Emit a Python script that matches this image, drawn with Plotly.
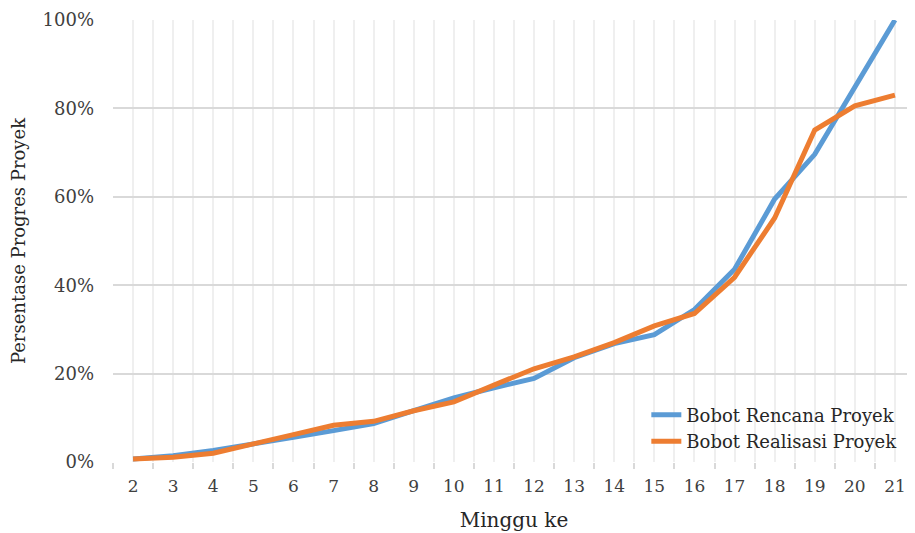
import plotly.graph_objects as go

weeks = list(range(2, 22))
week_labels = [str(w) for w in weeks]
rencana = [0.7, 1.4, 2.6, 4.2, 5.6, 7.1, 8.7, 11.6, 14.5, 16.8, 18.9, 23.6, 26.8, 28.8, 34.5, 43.6, 59.5, 69.6, 85.0, 100.0]
realisasi = [0.7, 1.1, 2.0, 4.0, 6.2, 8.3, 9.2, 11.6, 13.6, 17.4, 21.1, 23.8, 27.0, 30.8, 33.6, 41.8, 55.2, 75.1, 80.6, 83.0]
y_ticks = [0, 20, 40, 60, 80, 100]
y_tick_labels = ["0%", "20%", "40%", "60%", "80%", "100%"]
series_names = ["Bobot Rencana Proyek", "Bobot Realisasi Proyek"]
colors = ["#5B9BD5", "#ED7D31"]

boundaries = [w - 0.5 for w in weeks]

fig = go.Figure()
for name, vals, col in zip(series_names, [rencana, realisasi], colors):
    fig.add_trace(go.Scatter(x=weeks, y=vals, mode="lines", name=name,
                             line=dict(color=col, width=5)))

font_family = "DejaVu Serif"
fig.update_layout(
    width=907, height=525,
    margin=dict(l=105, r=0, t=12, b=71),
    paper_bgcolor="white", plot_bgcolor="white",
    font=dict(family=font_family, size=18, color="#404040"),
    showlegend=True,
    legend=dict(x=0.665, y=0.148, xanchor="left", yanchor="top",
                bgcolor="rgba(0,0,0,0)", font=dict(family=font_family, size=18, color="#262626"),
                tracegroupgap=0),
    xaxis=dict(
        range=[1.5, 21.5],
        tickmode="array", tickvals=weeks, ticktext=week_labels,
        ticks="", showgrid=True, gridcolor="#efefef", gridwidth=1.5,
        zeroline=False, showline=False,
        ticklabeloverflow="allow",
        tickfont=dict(family=font_family, size=17, color="#404040"),
        minor=dict(tickmode="array", tickvals=boundaries, ticks="outside",
                   ticklen=6, tickwidth=1.5, tickcolor="#d9d9d9",
                   showgrid=True, gridcolor="#efefef", gridwidth=1.5),
        title=dict(text="Minggu ke", font=dict(family=font_family, size=20, color="#262626"), standoff=17),
        ticklabelstandoff=12,
    ),
    yaxis=dict(
        range=[0, 100],
        tickmode="array", tickvals=y_ticks, ticktext=y_tick_labels,
        showgrid=True, gridcolor="#d9d9d9", gridwidth=1.5,
        zeroline=False, showline=False, ticks="",
        tickfont=dict(family=font_family, size=18, color="#404040"),
        ticklabelstandoff=18,
        title=dict(text="Persentase Progres Proyek", font=dict(family=font_family, size=18, color="#262626"), standoff=14),
    ),
)

fig.write_html("out.html")
